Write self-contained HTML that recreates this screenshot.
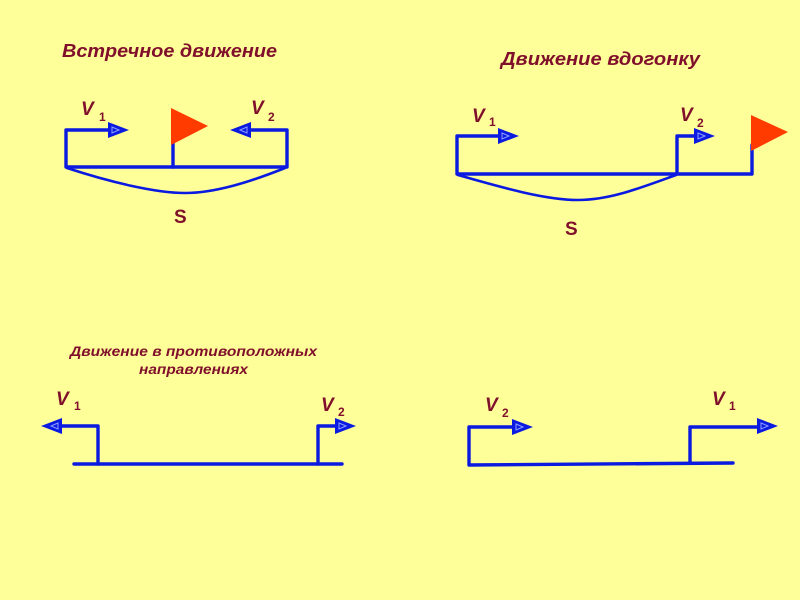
<!DOCTYPE html>
<html><head><meta charset="utf-8">
<style>
html,body{margin:0;padding:0;background:#ffff99}
svg{display:block;filter:blur(0.3px)}
text{font-family:"Liberation Sans",sans-serif;font-weight:bold;fill:#7f0f2a}
.t{font-style:italic;font-size:18px}
.s{font-style:italic;font-size:13.500px}
.v{font-style:italic;font-size:19px}
.n{font-size:12px}
.l{fill:none;stroke:#0a1ae0;stroke-width:3.4;stroke-linejoin:round;stroke-linecap:round}
.c{fill:none;stroke:#0a1ae0;stroke-width:2.6;stroke-linecap:round}
.a{fill:#0a1ae0}
.i{fill:none;stroke:#8fa0ff;stroke-width:1}
.f{fill:#ff3b00}
</style></head><body>
<svg width="800" height="600" viewBox="0 0 800 600" xmlns="http://www.w3.org/2000/svg">
<defs>
<g id="r"><path class="a" d="M0,-8 L21,0 L0,8Z"/><path class="i" d="M4,-3 L11,0 L4,3Z"/></g>
<g id="l"><path class="a" d="M0,-8 L-21,0 L0,8Z"/><path class="i" d="M-4,-3 L-11,0 L-4,3Z"/></g>
</defs>
<rect width="800" height="600" fill="#ffff99"/>

<text class="t" x="62" y="57" textLength="215" lengthAdjust="spacingAndGlyphs">Встречное движение</text>
<text class="v" x="81" y="115">V</text><text class="n" x="99" y="121">1</text>
<text class="v" x="251" y="114">V</text><text class="n" x="268" y="121">2</text>
<path class="l" d="M108,130 H66 V167 H287 V130 H250"/>
<path class="l" d="M173,167 V140"/>
<use href="#r" x="108" y="130"/><use href="#l" x="251" y="130"/>
<path class="f" d="M171,108 L208,126 L171,145Z"/>
<path class="c" d="M67,168 C110,182 155,193 185,193 C215,193 250,182 285,168"/>
<text x="174" y="223" style="font-size:19px">S</text>

<text class="t" x="501" y="65" textLength="199" lengthAdjust="spacingAndGlyphs">Движение вдогонку</text>
<text class="v" x="472" y="122">V</text><text class="n" x="489" y="126">1</text>
<text class="v" x="680" y="121">V</text><text class="n" x="697" y="127">2</text>
<path class="l" d="M498,136 H457 V174 H752 V145"/>
<path class="l" d="M677,174 V136 H695"/>
<use href="#r" x="498" y="136"/><use href="#r" x="694" y="136"/>
<path class="f" d="M751,115 L788,132 L751,151Z"/>
<path class="c" d="M458,175 C500,187 545,200 578,200 C610,200 640,188 676,175"/>
<text x="565" y="235" style="font-size:19px">S</text>

<text class="s" x="70" y="356" textLength="247" lengthAdjust="spacingAndGlyphs">Движение в противоположных</text>
<text class="s" x="139" y="374" textLength="109" lengthAdjust="spacingAndGlyphs">направлениях</text>
<text class="v" x="56" y="405">V</text><text class="n" x="74" y="410">1</text>
<text class="v" x="321" y="411">V</text><text class="n" x="338" y="416">2</text>
<path class="l" d="M74,464 H342"/>
<path class="l" d="M62,426 H98 V464"/>
<path class="l" d="M318,464 V426 H336"/>
<use href="#l" x="62" y="426"/><use href="#r" x="335" y="426"/>

<text class="v" x="485" y="411">V</text><text class="n" x="502" y="417">2</text>
<text class="v" x="712" y="405">V</text><text class="n" x="729" y="410">1</text>
<path class="l" d="M513,427 H469 V465 L733,463"/>
<path class="l" d="M690,463 V427 H758"/>
<use href="#r" x="512" y="427"/><use href="#r" x="757" y="426"/>
</svg>
</body></html>
